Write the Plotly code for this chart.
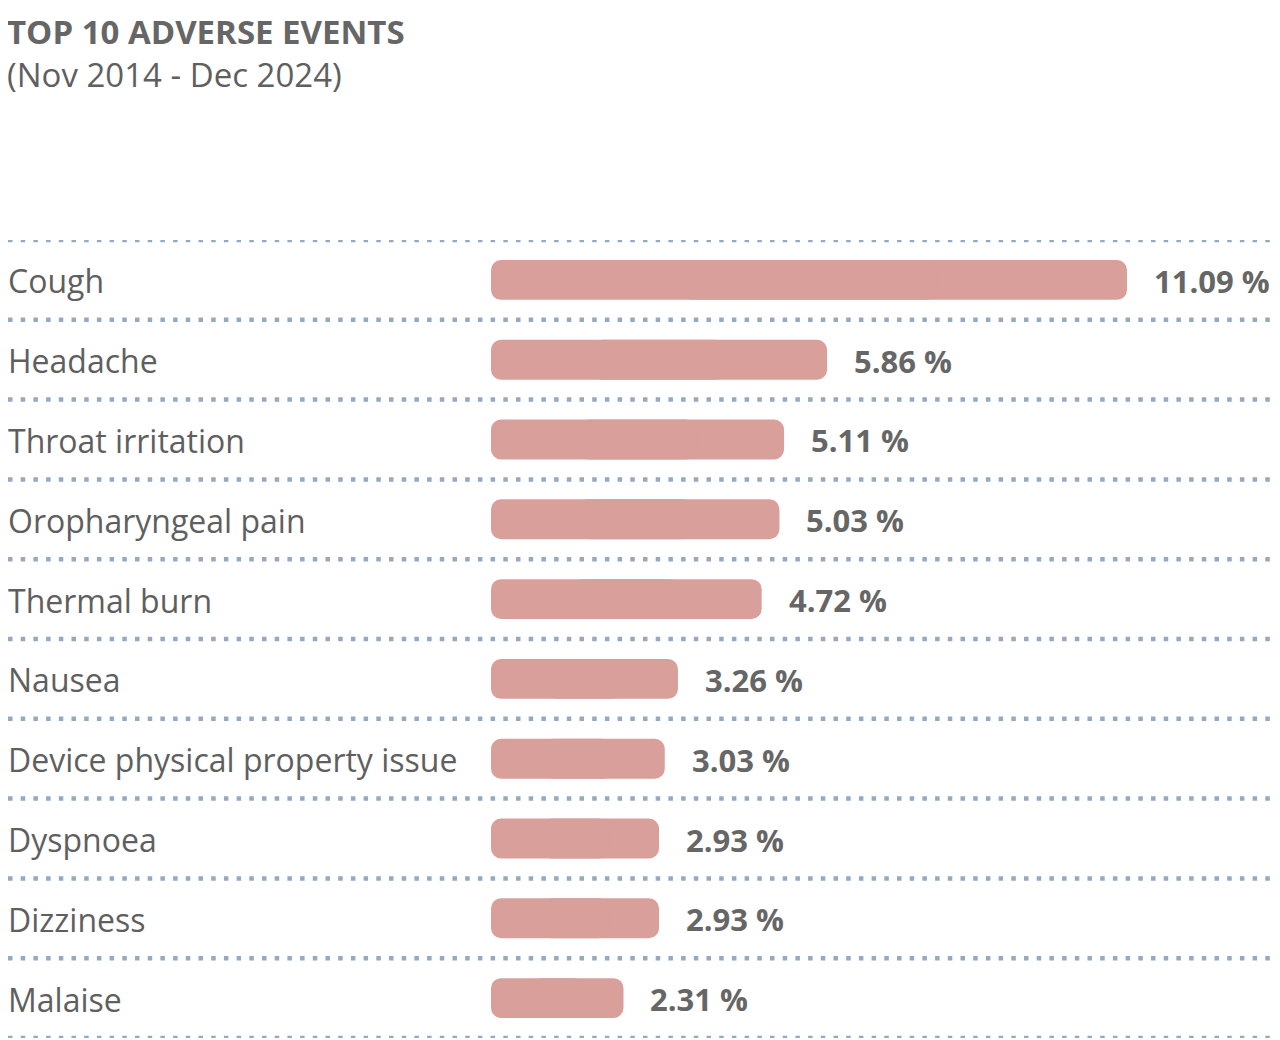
import plotly.graph_objects as go

# Top 10 adverse events, share of reports (%)
events = [
    "Cough",
    "Headache",
    "Throat irritation",
    "Oropharyngeal pain",
    "Thermal burn",
    "Nausea",
    "Device physical property issue",
    "Dyspnoea",
    "Dizziness",
    "Malaise",
]
shares = [11.09, 5.86, 5.11, 5.03, 4.72, 3.26, 3.03, 2.93, 2.93, 2.31]
value_labels = ["11.09 %", "5.86 %", "5.11 %", "5.03 %", "4.72 %",
                "3.26 %", "3.03 %", "2.93 %", "2.93 %", "2.31 %"]

TEXT_GREY = "#5f5f5f"
BAR_COLOR = "#d89f9b"
DOT_COLOR = "#93aac2"
FONT = "Open Sans"

# page has an 8px body margin, so the figure is drawn 8px in from the corner
PAD = 8
W, H = 1280 - PAD, 1040 - PAD
Y_TOP, Y_BOTTOM = 240 - PAD, 1038 - PAD  # rows of first / last dotted line
X_BAR = 491 - PAD  # where bars start
CAP_PX = 636  # pixel length of the longest bar

rows = list(range(len(events)))
# each bar is drawn as two overlapping pieces growing away from each other
# so that both ends get the rounded corners
right_base = [v * 0.3 for v in shares]
right_len = [v * 0.7 for v in shares]
left_base = [v * 0.7 for v in shares]
left_len = [-v * 0.7 for v in shares]

fig = go.Figure()
fig.add_trace(go.Bar(x=right_len, base=right_base, y=rows, orientation="h",
                     width=0.5, marker=dict(color=BAR_COLOR, line=dict(width=0)),
                     hoverinfo="skip"))
fig.add_trace(go.Bar(x=left_len, base=left_base, y=rows, orientation="h",
                     width=0.5, marker=dict(color=BAR_COLOR, line=dict(width=0)),
                     hoverinfo="skip"))

# event names on the left, values after the bars
for i, (name, val, lab) in enumerate(zip(events, shares, value_labels)):
    fig.add_annotation(
        x=0, xref="paper", y=i, yref="y", text=name, showarrow=False,
        xanchor="left", yanchor="middle", xshift=-2, yshift=-1,
        font=dict(family=FONT, size=32, color=TEXT_GREY),
    )
    fig.add_annotation(
        x=val, xref="x", y=i, yref="y", text="<b>" + lab + "</b>", showarrow=False,
        xanchor="left", yanchor="middle", xshift=26, yshift=-1, borderpad=0,
        font=dict(family=FONT, size=31, color="#666666"),
    )

# dotted separators between rows
for k in range(len(events) + 1):
    fig.add_shape(
        type="line", xref="paper", yref="y",
        x0=0.0, x1=0.996, y0=k - 0.5, y1=k - 0.5,
        line=dict(color=DOT_COLOR, width=4.5, dash="4.5px,8.2px"),
    )

# title and period as one two-line block
fig.add_annotation(
    x=0, xref="paper", y=1, yref="paper", xshift=-2, yshift=0, borderpad=0,
    showarrow=False, xanchor="left", yanchor="top", align="left",
    text="<b>TOP 10 ADVERSE EVENTS</b><br>"
         "<span style='color:" + TEXT_GREY + "'>(Nov 2014 - Dec 2024)</span>",
    font=dict(family=FONT, size=33, color="#666666"),
)

fig.update_layout(
    width=W,
    height=H,
    margin=dict(l=0, r=0, t=0, b=0),
    paper_bgcolor="white",
    plot_bgcolor="white",
    showlegend=False,
    barmode="overlay",
    barcornerradius=10,
    xaxis=dict(
        domain=[X_BAR / W, 1.0],
        range=[0, max(shares) * (W - X_BAR) / CAP_PX],
        visible=False,
        fixedrange=True,
    ),
    yaxis=dict(
        domain=[1 - Y_BOTTOM / H, 1 - Y_TOP / H],
        range=[len(events) - 0.5, -0.5],
        visible=False,
        fixedrange=True,
    ),
)

fig.write_html("out.html")
